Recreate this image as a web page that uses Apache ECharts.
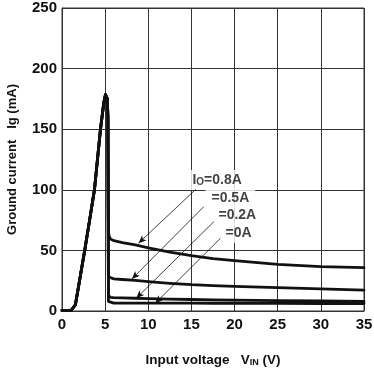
<!DOCTYPE html>
<html>
<head>
<meta charset="utf-8">
<script src="https://cdn.jsdelivr.net/npm/echarts@6/dist/echarts.min.js"></script>
<style>
  html, body { margin: 0; padding: 0; background: #fff; }
  #chart { width: 374px; height: 369px; }
</style>
</head>
<body>
<div id="chart"></div>
<script>
// shared start-up part of every curve (V, mA)
const riseX = [0, 1.05, 1.25, 1.55, 2.63, 3.2, 3.76, 4.46, 4.85, 5.04, 5.15, 5.25, 5.32]
const riseY = [0.5, 0.5, 2, 5, 50, 75, 100, 150, 172, 178.5, 179, 175, 160]

// after the drop-out, one tail per output current
const tailX = [5.38, 5.45, 5.6, 6.0, 7, 8.5, 10, 12.5, 15, 17.5, 20, 25, 30, 35]
const io08 = [66, 62, 59.5, 58, 56.5, 54.5, 52, 48.5, 45.6, 43.3, 41.5, 38.5, 36.6, 35.8]
const io05 = [30, 28, 27, 26.5, 26, 25.2, 24.2, 22.8, 21.7, 21, 20.4, 19.3, 18.2, 17.3]
const io02 = [13, 12, 11.2, 11, 10.8, 10.5, 10.2, 9.8, 9.5, 9.2, 9, 8.6, 8.3, 8]
const io00 = [8, 7, 6.6, 6.5, 6.5, 6.5, 6.5, 6.5, 6.5, 6.4, 6.4, 6.3, 6.2, 6.2]

// labels and arrows
const labelX = [14.42, 16.63, 17.44, 18.25]
const labelY = [108, 93.2, 79.2, 64.4]
const labelText = ['{i|I}{o|O}{t|=0.8A}', '{t|=0.5A}', '{t|=0.2A}', '{t|=0A}']
const arrowFrom = [[15.5, 100.4], [16.43, 86.1], [17.6, 73.7], [18.37, 60]]
const arrowTo = [[8.87, 55.9], [8.1, 26.4], [8.6, 10.5], [10.8, 6.4]]

const font = 'Arial, "Liberation Sans", Helvetica, sans-serif'

const curve = (tail) => {
  const pts = riseX.map((x, i) => [x, riseY[i]])
  tailX.forEach((x, i) => pts.push([x, tail[i]]))
  return pts
}

const chart = echarts.init(document.getElementById('chart'))

const lineSeries = [io08, io05, io02, io00].map(tail => ({
  type: 'line',
  data: curve(tail),
  symbol: 'none',
  silent: true,
  z: 5,
  lineStyle: { color: '#111', width: 2.8, join: 'round', cap: 'round' }
}))

chart.setOption({
  animation: false,
  grid: {
    left: 62, right: 10, top: 8, bottom: 58,
    outerBoundsMode: 'none',
    show: true, borderColor: '#333', borderWidth: 1
  },
  xAxis: {
    type: 'value',
    min: 0, max: 35, interval: 5,
    name: '{a|Input voltage   V}{s|IN}{a| (V)}',
    nameLocation: 'middle',
    nameGap: 42,
    nameTextStyle: {
      rich: {
        a: { fontFamily: font, fontSize: 13.5, fontWeight: 'bold', color: '#111' },
        s: { fontFamily: font, fontSize: 9, fontWeight: 'bold', color: '#111', verticalAlign: 'bottom' }
      }
    },
    axisLine: { lineStyle: { color: '#333', width: 1 } },
    axisTick: { show: false },
    axisLabel: { fontFamily: font, fontSize: 15, fontWeight: 'bold', color: '#111', margin: 6 },
    splitLine: { lineStyle: { color: '#333', width: 1 } }
  },
  yAxis: {
    type: 'value',
    min: 0, max: 250, interval: 50,
    name: 'Ground current   Ig (mA)',
    nameLocation: 'middle',
    nameRotate: 90,
    nameGap: 43,
    nameTextStyle: { fontFamily: font, fontSize: 13, fontWeight: 'bold', color: '#111' },
    axisLine: { show: true, lineStyle: { color: '#333', width: 1 } },
    axisTick: { show: false },
    axisLabel: { fontFamily: font, fontSize: 15, fontWeight: 'bold', color: '#111', margin: 5 },
    splitLine: { lineStyle: { color: '#333', width: 1 } }
  },
  series: [
    ...lineSeries,
    {
      type: 'scatter',
      z: 3,
      silent: true,
      symbolSize: 0,
      data: labelX.map((x, i) => [x, labelY[i]]),
      label: {
        show: true,
        position: 'right',
        distance: 0,
        formatter: p => labelText[p.dataIndex],
        backgroundColor: '#fff',
        padding: [3, 6],
        rich: {
          i: { fontFamily: font, fontSize: 14, fontWeight: 'bold', color: '#111' },
          o: { fontFamily: font, fontSize: 10, fontWeight: 'bold', color: '#111', verticalAlign: 'bottom' },
          t: { fontFamily: font, fontSize: 14, fontWeight: 'bold', color: '#111' }
        }
      }
    },
    {
      type: 'line',
      z: 4,
      data: [],
      markLine: {
        silent: true,
        animation: false,
        symbol: ['none', 'arrow'],
        symbolSize: [5, 8],
        label: { show: false },
        lineStyle: { color: '#111', width: 0.8, type: 'solid' },
        emphasis: { disabled: true },
        data: arrowFrom.map((a, i) => [{ coord: a }, { coord: arrowTo[i] }])
      }
    }
  ]
})
</script>
</body>
</html>
